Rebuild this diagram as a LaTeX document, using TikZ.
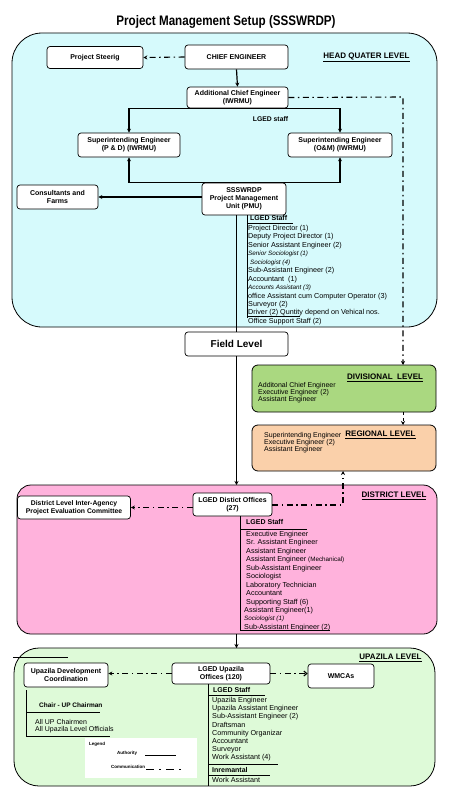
\documentclass[tikz,border=0pt]{standalone}
\usepackage{fontspec}
\setmainfont{Liberation Sans}
\usetikzlibrary{arrows.meta}
\definecolor{hqFill}{RGB}{214,250,252}
\definecolor{divFill}{RGB}{170,216,128}
\definecolor{regFill}{RGB}{250,208,170}
\definecolor{distFill}{RGB}{255,178,220}
\definecolor{upzFill}{RGB}{222,250,216}
\begin{document}
\begin{tikzpicture}[x=1pt, y=-1pt, levelStyle/.style={rectangle, draw, line width=0.8pt, inner sep=0pt, outer sep=0pt}, nodeStyle/.style={rectangle, draw, fill=white, rounded corners=3pt, line width=0.7pt, align=center, inner sep=0pt, font=\bfseries\fontsize{7}{8}\selectfont}, levelLabel/.style={inner sep=0pt, font=\bfseries\fontsize{8}{9}\selectfont}, listStyle/.style={align=left, inner sep=0pt, anchor=north west, font=\fontsize{7.2}{8.45}\selectfont}, headStyle/.style={inner sep=0pt, anchor=west, font=\bfseries\fontsize{7}{8}\selectfont}, authStyle/.style={line width=1.2pt, -{Stealth[length=4pt, width=4pt]}}, commStyle/.style={line width=1.1pt, dash pattern=on 6pt off 3.5pt on 1.5pt off 3.5pt, -{Stealth[length=4pt, width=4pt]}}, bracketStyle/.style={line width=0.6pt}]
                    \useasboundingbox (0,0) rectangle (450,800);
                    \node[inner sep=0pt, font=\bfseries\fontsize{12}{14}\selectfont] (title) at (226, 22) {\scalebox{0.97}[1.15]{Project Management Setup (SSSWRDP)}};

                    \node[levelStyle, fill=hqFill, rounded corners=30pt, minimum width=425pt, minimum height=294pt] (hq) at (224.5, 180) {};
                    \node[levelLabel] (hqLabel) at (366.5, 57) {\underline{HEAD QUATER LEVEL}};

                    \node[nodeStyle, minimum width=96pt, minimum height=22pt] (steer) at (95, 57.5) {Project Steerig};
                    \node[nodeStyle, minimum width=103pt, minimum height=24pt] (chief) at (236.5, 57) {CHIEF ENGINEER};
                    \node[nodeStyle, minimum width=101pt, minimum height=21pt] (ace) at (237.5, 97.5) {Additional Chief Engineer\\(IWRMU)};
                    \node[inner sep=0pt, font=\bfseries\fontsize{6.8}{8}\selectfont] (staffNote) at (270.5, 119) {LGED staff};
                    \node[nodeStyle, minimum width=102pt, minimum height=24pt] (sepd) at (129, 145) {Superintending Engineer\\(P \& D) (IWRMU)};
                    \node[nodeStyle, minimum width=104pt, minimum height=24pt] (seom) at (340, 145) {Superintending Engineer\\(O\&M) (IWRMU)};
                    \node[nodeStyle, minimum width=84pt, minimum height=32pt] (pmu) at (244, 199) {SSSWRDP\\Project Management\\Unit (PMU)};
                    \node[nodeStyle, minimum width=81pt, minimum height=24pt] (consult) at (57.5, 197) {Consultants and\\Farms};

                    \node[headStyle] (pmuHead) at (250, 218) {LGED Staff};
                    \node[listStyle] (pmuList) at (248, 225) {Project Director (1)\\Deputy Project Director (1)\\Senior Assistant Engineer (2)\\{\fontsize{6.3}{8.45}\itshape Senior Sociologist (1)}\\{\fontsize{6.3}{8.45}\itshape \hspace{2pt}Sociologist (4)}\\Sub-Assistant Engineer (2)\\Accountant\ \ (1)\\{\fontsize{6.3}{8.45}\itshape Accounts Assistant (3)}\\office Assistant cum Computer Operator (3)\\Surveyor (2)\\Driver (2) Quntity depend on Vehical nos.\\Office Support Staff (2)};
                    \draw[bracketStyle] (247, 223) -- (293, 223);
                    \draw[bracketStyle] (pmu.south -| 247, 0) -- (247, 318);
                    \draw[bracketStyle] (247, 316) -- (300, 316);

                    \node[nodeStyle, minimum width=103pt, minimum height=24pt, font=\bfseries\fontsize{10}{12}\selectfont] (field) at (236.5, 344) {Field Level};

                    \node[levelStyle, fill=divFill, rounded corners=6pt, minimum width=184pt, minimum height=47pt] (div) at (344, 388.5) {};
                    \node[levelLabel] (divLabel) at (385, 378) {\underline{DIVISIONAL\ \ LEVEL}};
                    \node[listStyle, font=\fontsize{7}{7.2}\selectfont] (divList) at (258, 382) {Additonal Chief Engineer\\Executive Engineer (2)\\Assistant Engineer};

                    \node[levelStyle, fill=regFill, rounded corners=6pt, minimum width=184pt, minimum height=46pt] (reg) at (344, 448) {};
                    \node[levelLabel] (regLabel) at (380.5, 435) {\underline{REGIONAL LEVEL}};
                    \node[listStyle, font=\fontsize{7}{7.2}\selectfont] (regList) at (264, 432) {Superintending Engineer\\Executive Engineer (2)\\Assistant Engineer};

                    \node[levelStyle, fill=distFill, rounded corners=14pt, minimum width=420pt, minimum height=149pt] (district) at (227, 559.5) {};
                    \node[levelLabel] (distLabel) at (394, 496) {\underline{DISTRICT LEVEL}};
                    \node[nodeStyle, minimum width=79pt, minimum height=23pt] (distOff) at (232.5, 504.5) {LGED Distict Offices\\(27)};
                    \node[nodeStyle, minimum width=113pt, minimum height=23pt, font=\bfseries\fontsize{6.8}{8}\selectfont] (diac) at (74, 507.5) {District Level Inter-Agency\\Project Evaluation Committee};

                    \node[headStyle] (distHead) at (246, 522) {LGED Staff};
                    \node[listStyle] (distList) at (246, 531) {Executive Engineer\\Sr. Assistant Engineer\\Assistant Engineer\\Assistant Engineer {\fontsize{6.3}{8.45}\selectfont(Mechanical)}\\Sub-Assistant Engineer\\Sociologist\\Laboratory Technician\\Accountant\\Supporting Staff (6)};
                    \node[listStyle] (distExtra) at (244, 607) {Assistant Engineer(1)\\{\fontsize{6.3}{8.45}\itshape Sociologist (1)}\\Sub-Assistant Engineer (2)};
                    \draw[bracketStyle] (240, 529) -- (307, 529);
                    \draw[bracketStyle] (distOff.south -| 240, 0) -- (240, 631);
                    \draw[bracketStyle] (240, 630) -- (330, 630);

                    \node[levelStyle, fill=upzFill, rounded corners=25pt, minimum width=421pt, minimum height=138pt] (upazila) at (224.5, 717) {};
                    \node[levelLabel] (upzLabel) at (390.5, 658) {\underline{UPAZILA LEVEL}};
                    \draw[bracketStyle] (13, 657) -- (68, 657);
                    \node[nodeStyle, minimum width=84pt, minimum height=24pt] (udc) at (66, 675) {Upazila Development\\Coordination};
                    \node[nodeStyle, minimum width=98pt, minimum height=21pt] (upOff) at (221, 673.5) {LGED Upazila\\Offices (120)};
                    \node[nodeStyle, minimum width=66pt, minimum height=24pt] (wmca) at (341, 676) {WMCAs};

                    \node[headStyle, font=\bfseries\fontsize{6.5}{8}\selectfont] (chair) at (39, 705) {Chair - UP Chairman};
                    \node[listStyle, font=\fontsize{7}{7.6}\selectfont] (udcList) at (35, 719) {All UP Chairmen\\All Upazila Level Officials};
                    \draw[bracketStyle] (udc.south -| 26, 0) ++(0, 3) -- (26, 737);
                    \draw[bracketStyle] (26, 712) -- (100, 712);
                    \draw[bracketStyle] (26, 736) -- (110, 736);

                    \node[headStyle] (upzHead) at (213, 690) {LGED Staff};
                    \node[listStyle, font=\fontsize{7.2}{8.2}\selectfont] (upzList) at (212, 697) {Upazila Engineer\\Upazila Assistant Engineer\\Sub-Assistant Engineer (2)\\Draftsman\\Community Organizar\\Accountant\\Surveyor\\Work Assistant (4)};
                    \node[headStyle] (incHead) at (212, 770) {Inremantal};
                    \node[listStyle] (incList) at (212, 777) {Work Assistant};
                    \draw[bracketStyle] (208, 695) -- (265, 695);
                    \draw[bracketStyle] (upOff.south -| 208, 0) -- (208, 786);
                    \draw[bracketStyle] (208, 764) -- (278, 764);
                    \draw[bracketStyle] (208, 775) -- (270, 775);

                    \node[fill=white, inner sep=0pt, minimum width=112pt, minimum height=40pt] (legend) at (141, 758) {};
                    \node[inner sep=0pt, anchor=west, font=\bfseries\fontsize{4.5}{5}\selectfont] (legendHead) at (89, 744) {Legend};
                    \node[inner sep=0pt, anchor=west, font=\bfseries\fontsize{4.5}{5}\selectfont] (legendAuth) at (117, 753) {Authority};
                    \node[inner sep=0pt, anchor=west, font=\bfseries\fontsize{4.5}{5}\selectfont] (legendComm) at (111, 767) {Communication};
                    \draw[line width=1pt] (legendAuth.east) ++(8, 2) -- ++(31, 0);
                    \draw[line width=1pt, dash pattern=on 8pt off 5pt on 2pt off 5pt] (legendComm.east) ++(1, 2) -- ++(36, 0);

                    \draw[commStyle] (chief.west) -- (steer.east);
                    \draw[authStyle] (chief.south) -- (ace.north);
                    \draw[authStyle] (ace.south) -| (sepd.north);
                    \draw[authStyle] (ace.south) -| (seom.north);
                    \draw[authStyle] (pmu.north) -| (sepd.south);
                    \draw[authStyle] (pmu.north) -| (seom.south);
                    \draw[authStyle] (pmu.west |- consult.east) -- (consult.east);
                    \draw[line width=1pt] (pmu.south -| field.north) -- (field.north);
                    \coordinate (divTurn) at (403, 97);
                    \draw[commStyle] (ace.east) -- (divTurn) -- (divTurn |- div.north);
                    \draw[line width=1pt, dashed, -{Stealth[length=4pt, width=4pt]}] (divTurn |- div.south) -- (divTurn |- reg.north);
                    \draw[authStyle] (field.south) -- (field.south |- district.north);
                    \coordinate (regTurn) at (343, 505);
                    \draw[commStyle] (distOff.east |- regTurn) -- (regTurn) -- (regTurn |- reg.south);
                    \draw[commStyle] (distOff.west |- diac.east) -- (diac.east);
                    \draw[authStyle] (field.south |- district.south) -- (field.south |- upazila.north);
                    \draw[commStyle] (upOff.west) -- (udc.east |- upOff.west);
                    \draw[commStyle, -{Straight Barb[length=3pt, width=5pt]}] (upOff.east) -- (wmca.west |- upOff.east);
                \end{tikzpicture}
\end{document}
